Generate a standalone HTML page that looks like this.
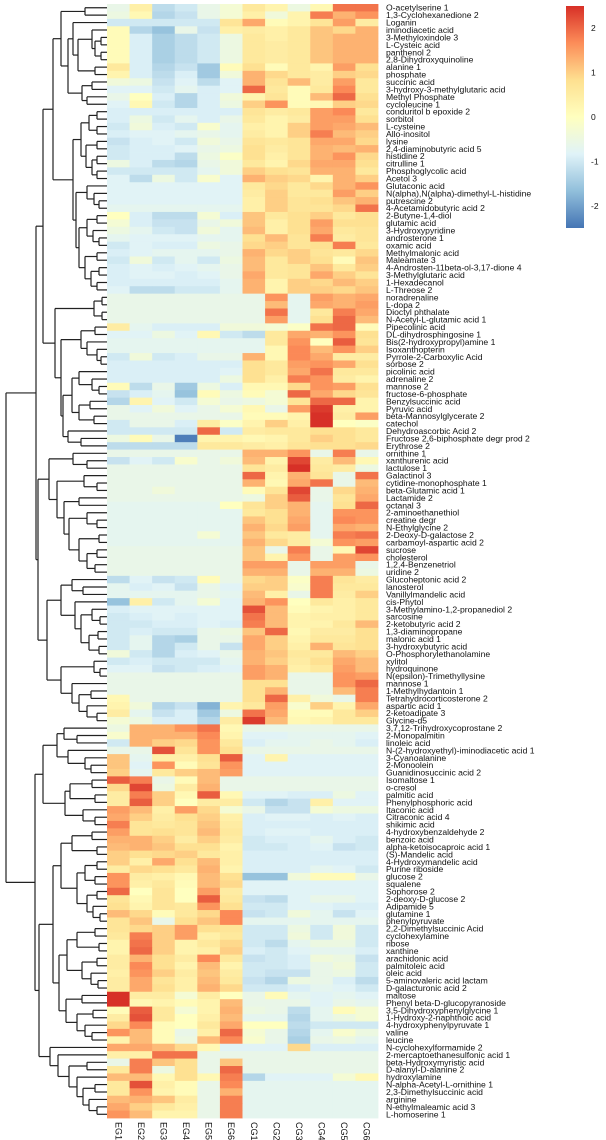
<!DOCTYPE html>
<html><head><meta charset="utf-8"><style>
html,body{margin:0;padding:0;background:#fff;}
svg{display:block;}
text{font-family:"Liberation Sans",sans-serif;}
</style></head><body>
<svg id="chart" width="606" height="1140" viewBox="0 0 606 1140" xmlns="http://www.w3.org/2000/svg">
<g id="dendro"></g>
<g id="cells"></g>
<g id="rowlabels"></g>
<g id="collabels"></g>
<g id="legend"></g>
</svg>
<script>
const columns = ["EG1","EG2","EG3","EG4","EG5","EG6","CG1","CG2","CG3","CG4","CG5","CG6"];
const rowNames = ["O-acetylserine 1","1,3-Cyclohexanedione 2","Loganin","iminodiacetic acid","3-Methyloxindole 3","L-Cysteic acid","panthenol 2","2,8-Dihydroxyquinoline","alanine 1","phosphate","succinic acid","3-hydroxy-3-methylglutaric acid","Methyl Phosphate","cycloleucine 1","conduritol b epoxide 2","sorbitol","L-cysteine","Allo-inositol","lysine","2,4-diaminobutyric acid 5","histidine 2","citrulline 1","Phosphoglycolic acid","Acetol 3","Glutaconic acid","N(alpha),N(alpha)-dimethyl-L-histidine","putrescine 2","4-Acetamidobutyric acid 2","2-Butyne-1,4-diol","glutamic acid","3-Hydroxypyridine","androsterone 1","oxamic acid","Methylmalonic acid","Maleamate 3","4-Androsten-11beta-ol-3,17-dione 4","3-Methylglutaric acid","1-Hexadecanol","L-Threose 2","noradrenaline","L-dopa 2","Dioctyl phthalate","N-Acetyl-L-glutamic acid 1","Pipecolinic acid","DL-dihydrosphingosine 1","Bis(2-hydroxypropyl)amine 1","Isoxanthopterin","Pyrrole-2-Carboxylic Acid","sorbose 2","picolinic acid","adrenaline 2","mannose 2","fructose-6-phosphate","Benzylsuccinic acid","Pyruvic acid","beta-Mannosylglycerate 2","catechol","Dehydroascorbic Acid 2","Fructose 2,6-biphosphate degr prod 2","Erythrose 2","ornithine 1","xanthurenic acid","lactulose 1","Galactinol 3","cytidine-monophosphate 1","beta-Glutamic acid 1","Lactamide 2","octanal 3","2-aminoethanethiol","creatine degr","N-Ethylglycine 2","2-Deoxy-D-galactose 2","carbamoyl-aspartic acid 2","sucrose","cholesterol","1,2,4-Benzenetriol","uridine 2","Glucoheptonic acid 2","lanosterol","Vanillylmandelic acid","cis-Phytol","3-Methylamino-1,2-propanediol 2","sarcosine","2-ketobutyric acid 2","1,3-diaminopropane","malonic acid 1","3-hydroxybutyric acid","O-Phosphorylethanolamine","xylitol","hydroquinone","N(epsilon)-Trimethyllysine","mannose 1","1-Methylhydantoin 1","Tetrahydrocorticosterone 2","aspartic acid 1","2-ketoadipate 3","Glycine-d5","3,7,12-Trihydroxycoprostane 2","2-Monopalmitin","linoleic acid","N-(2-hydroxyethyl)-iminodiacetic acid 1","3-Cyanoalanine","2-Monoolein","Guanidinosuccinic acid 2","Isomaltose 1","o-cresol","palmitic acid","Phenylphosphoric acid","Itaconic acid","Citraconic acid 4","shikimic acid","4-hydroxybenzaldehyde 2","benzoic acid","alpha-ketoisocaproic acid 1","(S)-Mandelic acid","4-Hydroxymandelic acid","Purine riboside","glucose 2","squalene","Sophorose 2","2-deoxy-D-glucose 2","Adipamide 5","glutamine 1","phenylpyruvate","2,2-Dimethylsuccinic Acid","cyclohexylamine","ribose","xanthine","arachidonic acid","palmitoleic acid","oleic acid","5-aminovaleric acid lactam","D-galacturonic acid 2","maltose","Phenyl beta-D-glucopyranoside","3,5-Dihydroxyphenylglycine 1","1-Hydroxy-2-naphthoic acid","4-hydroxyphenylpyruvate 1","valine","leucine","N-cyclohexylformamide 2","2-mercaptoethanesulfonic acid 1","beta-Hydroxymyristic acid","D-alanyl-D-alanine 2","hydroxylamine","N-alpha-Acetyl-L-ornithine 1","2,3-Dimethylsuccinic acid","arginine","N-ethylmaleamic acid 3","L-homoserine 1"];
const egValues = [
[-0.6,0.4,-1.2,-1.0,-0.6,-0.3],[-0.5,0.2,-1.3,-1.1,-0.6,-0.3],[-1,-1,-1,-1,-1,0.7],[0.1,-1.3,-1.6,-0.6,-1.1,0.4],[0.1,-0.9,-1.4,-1.2,-1.0,-0.5],[0.1,-0.9,-1.4,-1.2,-1.0,-0.5],[0.1,-0.9,-1.4,-1.2,-1.0,-0.5],[0.1,-0.9,-1.4,-1.2,-1.0,-0.5],[0.6,-0.9,-1.3,-1.1,-1.5,0.1],[0.3,-0.9,-1.2,-0.9,-1.5,-0.4],
[-0.4,-0.5,-1.1,-0.8,-1.2,-0.8],[-0.8,-0.8,-1.0,-0.7,-0.9,-0.8],[-0.6,0.0,-0.9,-1.3,-0.9,-0.4],[-0.8,0.2,-1.0,-1.3,-0.9,-0.5],[-0.9,-0.9,-0.9,-0.9,-0.9,-0.9],[-0.9,-0.5,-1.0,-0.7,-0.9,-0.6],[-1.0,-0.4,-0.9,-1.0,-0.2,-0.7],[-0.9,-0.8,-0.8,-0.7,-0.6,-0.7],[-1.1,-0.9,-0.8,-1.0,-0.4,-0.6],[-1.0,-0.9,-0.9,-0.8,-0.6,-0.5],
[-1.0,-0.9,-0.9,-1.2,-0.5,-0.1],[-0.5,-0.9,-1.2,-1.3,-0.6,-0.4],[-1.0,-1.0,-1.0,-1.0,-0.7,-0.4],[-0.8,-1.2,-0.5,-1.0,-0.2,-0.8],[-0.8,-0.8,-0.8,-0.8,-0.8,-0.8],[-0.8,-0.8,-0.8,-0.8,-0.8,-0.8],[-0.8,-0.8,-0.8,-0.8,-0.8,-0.8],[-0.7,-0.7,-0.7,-0.7,-0.7,-0.7],[0.0,-0.9,-1.2,-1.2,-0.3,-0.9],[-0.3,-0.9,-1.1,-1.1,-0.6,-0.4],
[-0.5,-0.7,-1.0,-1.1,-0.4,-0.7],[-0.7,-0.8,-0.8,-0.8,-0.7,-0.7],[-1.0,-0.8,-0.9,-0.9,-0.5,-0.6],[-0.9,-0.8,-0.7,-0.7,-0.7,-0.6],[-1.0,-0.4,-1.0,-0.7,-1.0,-0.5],[-0.9,-0.8,-0.9,-0.8,-0.7,-0.6],[-0.9,-0.8,-0.8,-0.9,-0.8,-0.6],[-0.9,-0.9,-0.9,-0.9,-0.9,-0.7],[-0.8,-1.2,-1.2,-1.0,-1.0,-0.7],[-0.6,-0.6,-0.6,-0.6,-0.6,-0.6],
[-0.6,-0.6,-0.6,-0.6,-0.6,-0.6],[-0.6,-0.6,-0.6,-0.6,-0.6,-0.6],[-0.6,-0.6,-0.6,-0.6,-0.6,-0.6],[0.5,-0.7,-0.9,-0.9,-0.9,-0.4],[-0.8,-0.8,-0.5,-0.8,0.2,-1.0],[-0.7,-0.7,-0.7,-0.7,-0.7,-0.7],[-0.7,-0.7,-0.7,-0.7,-0.7,-0.7],[-1.0,-0.4,-1.0,-0.9,-0.6,-0.6],[-0.9,-0.9,-0.9,-0.9,-0.9,-0.9],[-0.9,-0.9,-0.9,-0.9,-0.9,-0.8],
[-0.9,-0.9,-0.9,-0.9,-0.9,-0.5],[0.1,-1.2,-0.6,-1.5,-0.5,-0.9],[-1.1,-0.9,-0.7,-1.6,0.1,-0.5],[-1.3,0.3,-0.8,-1.0,-0.3,-0.6],[-0.6,-0.8,-0.4,-0.8,-0.6,-0.3],[-0.6,-0.6,-0.6,-0.6,-0.6,-0.6],[-1.0,-0.6,-0.6,-0.9,0.5,-0.1],[-1.0,-1.0,-1.0,-1.0,2.0,-1.0],[-0.5,0.1,-0.6,-2.4,0.3,0.3],[-1.2,-1.2,-1.2,-1.2,0.6,0.6],
[-0.6,-0.6,-0.6,-0.6,-0.6,-0.6],[-1.1,-0.8,-1.0,-0.2,-0.6,-0.4],[-0.6,-0.6,-0.6,-0.6,-0.6,-0.6],[-0.6,-0.6,-0.6,-0.6,-0.6,-0.6],[-0.6,-0.6,-0.6,-0.6,-0.6,-0.6],[-0.6,-0.6,-0.4,-0.6,-0.6,-0.6],[-0.6,-0.6,-0.6,-0.6,-0.6,-0.6],[-0.7,-0.7,-0.7,-0.7,-0.7,0.0],[-0.7,-0.7,-0.7,-0.7,-0.7,-0.7],[-0.7,-0.7,-0.7,-0.7,-0.7,-0.7],
[-0.7,-0.7,-0.7,-0.7,-0.7,-0.7],[-0.7,-0.7,-0.7,-0.7,-0.3,-0.7],[-0.7,-0.7,-0.7,-0.7,-0.7,-0.7],[-0.6,-0.6,-0.6,-0.6,-0.6,-0.6],[-0.6,-0.6,-0.6,-0.6,-0.6,-0.6],[-0.6,-0.6,-0.6,-0.6,-0.6,-0.6],[-0.6,-0.6,-0.6,-0.6,-0.6,-0.6],[-1.2,-0.8,-1.1,-1.0,0.1,-0.6],[-0.7,-0.9,-0.8,-1.1,-0.6,-0.8],[-0.7,-0.7,-0.7,-0.7,-0.6,-0.7],
[-1.6,0.4,-1.0,-0.7,-0.3,-0.8],[-0.9,-0.8,-0.8,-0.8,-0.8,-0.8],[-1.0,-0.9,-0.8,-0.9,-0.8,-0.8],[-1.0,-1.0,-0.9,-0.9,-0.8,-0.9],[-1.0,-0.9,-1.0,-1.0,-0.6,-0.5],[-1.0,-0.7,-1.3,-1.4,-0.6,-0.6],[-1.0,-0.7,-1.3,-1.0,-0.6,-1.1],[-0.4,-1.0,-1.3,-0.9,-0.8,-0.6],[-1.0,-0.9,-1.0,-1.0,-1.0,-0.7],[-0.8,-0.8,-1.1,-1.0,-0.9,-0.8],
[-0.6,-0.6,-0.6,-0.6,-0.6,-0.6],[-0.6,-0.6,-0.6,-0.6,-0.6,-0.6],[-0.6,-0.6,-0.6,-0.6,-0.6,-0.6],[0.2,-0.6,-0.6,-0.6,-0.6,-0.6],[0.3,-0.4,-1.3,-1.1,-1.8,0.3],[0.5,-0.7,-1.1,-0.9,-1.5,-0.5],[-0.3,-0.5,-0.9,-0.9,-1.3,0.5],[-0.5,1.3,1.3,1.6,1.9,0.2],[-0.2,1.3,1.3,1.3,1.7,0.3],[-1.0,1.3,1.0,0.9,1.6,0.6],
[-0.6,-0.6,2.2,0.7,1.6,0.8],[1.1,-0.7,0.4,0.4,0.8,2.1],[1.1,-0.8,1.6,0.1,0.7,1.6],[1.0,-0.7,0.6,1.0,1.2,1.5],[2.1,1.8,-0.6,0.1,1.2,-0.6],[0.9,2.3,-0.5,0.5,1.3,-0.6],[0.5,1.8,1.0,0.2,2.1,0.2],[0.5,2.1,1.0,0.0,0.5,0.5],[1.5,1.2,0.4,1.5,0.9,-0.3],[1.4,1.0,0.5,0.8,1.0,0.4],
[1.8,0.7,0.6,0.7,1.1,0.5],[1.5,0.7,0.8,0.7,1.2,0.6],[1.3,1.3,1.0,0.5,1.0,0.5],[1.2,1.3,1.1,0.8,0.8,0.3],[1.0,0.8,0.9,1.0,0.6,0.4],[1.0,0.4,1.4,0.8,1.2,0.4],[0.5,0.9,0.8,0.6,1.3,0.3],[1.6,0.5,0.4,0.2,1.2,0.8],[1.6,0.4,0.6,0.1,1.2,0.9],[2.0,0.0,0.7,0.0,1.5,0.5],
[0.7,0.2,0.7,0.0,2.1,0.6],[0.8,0.3,0.7,0.6,1.6,0.8],[1.2,0.9,0.1,0.6,0.9,1.7],[0.7,1.1,-0.6,0.8,1.1,1.7],[0.7,0.9,1.0,1.5,0.8,0.7],[0.6,1.8,1.0,1.5,0.4,0.6],[0.3,1.9,1.0,0.3,0.6,0.9],[0.3,2.0,1.0,0.3,0.4,1.0],[0.5,1.3,0.8,0.5,1.7,0.6],[0.5,1.7,0.8,0.3,1.2,0.3],
[0.4,1.6,1.0,0.5,1.1,0.5],[0.5,1.4,0.7,0.4,1.2,0.6],[0.5,1.4,0.8,0.4,1.3,0.9],[2.6,0.5,0.5,-0.3,0.5,0.0],[2.6,0.2,0.3,0.1,0.3,1.2],[0.1,2.1,0.6,-0.3,0.3,1.3],[0.5,2.2,0.6,0.0,0.4,1.2],[0.9,1.7,0.1,0.0,0.6,1.4],[1.6,1.2,0.1,-0.6,0.4,2.0],[0.3,1.2,0.1,-0.5,1.2,1.7],
[1.4,1.4,1.2,0.9,0.2,-0.8],[0.4,0.4,1.9,1.9,-0.6,-0.6],[-0.6,1.8,1.1,0.8,-0.6,1.1],[0.6,1.8,-0.5,0.8,-0.6,2.0],[1.2,1.2,0.2,0.8,0.2,1.8],[0.6,2.2,0.4,0.1,-0.6,1.7],[0.6,1.6,0.3,0.1,-0.6,1.3],[1.2,1.3,1.1,0.5,-0.6,1.8],[1.4,1.0,0.6,0.4,-0.6,1.8],[1.6,1.2,0.3,0.3,-0.6,1.8]];
const cgValues = [
[0.6,0.3,-0.5,0.2,1.9,1.9],[0.4,-0.4,0.3,1.8,1.3,1.6],[1.4,0.1,0.3,0.7,1.5,0.5],[0.5,0.4,0.6,1.1,0.9,1.3],[0.6,0.4,0.6,1.1,1.3,1.3],[0.6,0.5,0.6,1.1,1.3,1.3],[0.6,0.5,0.6,1.1,1.3,1.3],[0.6,0.5,0.6,1.1,1.3,1.3],[0.8,0.1,0.6,0.3,1.5,0.8],[1.3,0.9,0.6,0.5,1.0,0.9],
[1.3,0.7,1.2,0.5,1.5,0.6],[2.0,0.6,0.1,0.6,1.7,0.6],[0.3,0.7,0.1,1.2,2.0,0.8],[1.0,1.6,0.1,0.2,1.0,0.9],[0.7,0.5,0.6,1.5,1.7,0.6],[0.6,0.3,0.5,1.5,1.5,0.8],[0.4,0.3,1.0,1.5,1.4,1.2],[0.5,0.3,1.0,1.8,1.2,1.0],[0.7,0.6,0.7,1.4,1.4,0.9],[0.8,0.5,0.7,1.3,1.2,1.3],
[0.8,0.4,0.7,1.3,1.6,0.9],[0.6,0.3,0.9,1.4,1.4,0.8],[1.0,0.8,0.7,1.3,1.3,0.6],[1.3,1.0,0.9,0.3,1.3,1.0],[0.6,0.9,0.6,0.9,1.3,1.6],[0.5,1.0,0.6,0.6,1.5,1.0],[0.4,1.0,0.7,0.8,1.1,1.3],[0.4,1.0,0.7,0.7,0.9,1.9],[1.1,0.6,0.8,1.0,0.6,0.8],[1.1,0.4,0.8,1.5,0.8,0.8],
[1.2,0.4,0.8,1.4,0.6,0.7],[0.8,1.2,0.7,1.8,0.5,0.7],[0.9,1.0,0.7,0.8,1.8,0.6],[1.3,0.9,1.0,0.7,0.6,0.9],[1.2,0.6,1.0,0.8,0.1,1.1],[1.2,0.6,0.7,1.1,0.6,1.0],[1.4,0.6,0.7,1.4,1.0,0.7],[1.3,0.3,1.0,0.9,1.2,1.0],[1.3,0.3,1.0,1.0,0.9,1.1],[-0.6,1.6,-0.7,1.5,1.3,1.4],
[-0.6,1.2,-0.7,1.4,1.3,1.5],[-0.6,1.9,-0.7,0.6,1.8,1.4],[-0.6,1.5,-0.7,0.8,2.0,1.2],[-0.4,-0.3,-0.1,1.9,2.0,0.1],[-1.2,0.6,1.4,1.3,1.6,0.8],[-0.7,0.6,1.6,0.0,2.1,0.7],[-0.7,0.2,1.7,1.2,1.6,1.0],[1.3,0.2,1.7,1.4,0.5,0.5],[0.8,0.6,1.5,1.6,1.4,0.8],[0.8,0.6,1.4,1.9,0.6,0.6],
[0.8,0.4,1.8,1.6,0.5,0.3],[0.2,0.2,0.9,1.6,1.5,0.8],[0.1,-0.3,2.0,1.4,0.9,0.7],[-0.5,-0.3,0.7,2.0,2.0,0.3],[0.2,-0.6,1.5,2.4,0.4,0.3],[0.1,0.1,0.3,2.6,0.5,1.5],[0.3,1.0,0.4,2.8,0.0,-0.1],[0.5,0.6,0.6,0.8,0.8,0.6],[0.2,0.3,0.6,1.0,0.8,0.6],[0.5,0.4,0.7,0.8,0.8,0.9],
[1.3,1.3,1.6,-0.6,1.8,-0.6],[1.2,0.3,2.3,0.5,1.2,0.2],[0.7,0.5,2.6,0.6,0.5,-0.5],[2.0,0.3,1.3,0.7,-0.6,1.9],[1.3,0.2,1.4,1.9,-0.6,1.2],[0.1,0.7,2.3,-0.6,0.9,1.3],[-0.5,1.0,2.1,-0.6,0.7,1.4],[0.7,1.0,1.3,-0.7,0.8,2.0],[0.6,0.8,1.3,-0.7,1.6,1.6],[1.1,0.8,1.4,-0.7,1.7,1.6],
[1.3,0.9,1.5,-0.7,1.4,1.3],[1.1,0.6,0.5,-0.7,1.8,1.9],[1.3,0.9,0.5,-0.3,1.6,1.5],[1.1,-0.6,1.8,-0.6,0.2,2.3],[1.1,0.3,1.6,-0.6,1.5,1.6],[1.5,1.5,-0.6,1.5,1.5,-0.6],[1.3,1.3,-0.6,1.3,1.3,-0.5],[0.9,1.0,-0.1,1.8,0.7,0.5],[1.0,1.0,-0.2,1.8,0.6,0.6],[1.2,0.4,-0.6,1.8,0.5,1.0],
[1.3,1.6,0.0,0.6,0.4,0.6],[2.2,1.2,0.1,0.3,0.4,0.6],[1.9,1.2,0.3,0.4,0.4,0.6],[1.8,1.2,0.3,0.3,0.6,1.2],[1.1,2.0,0.2,0.5,0.5,0.8],[1.4,1.0,0.3,0.6,0.6,0.8],[1.4,1.0,0.4,1.3,0.7,0.8],[1.3,1.1,0.6,0.6,1.2,1.0],[1.3,1.0,0.5,0.8,1.4,1.2],[1.5,1.3,0.4,0.6,1.5,1.2],
[1.5,1.3,-0.6,-0.6,1.6,1.5],[0.8,0.8,-0.6,-0.6,1.6,2.0],[0.8,1.3,-0.6,-0.6,1.2,1.8],[0.8,2.0,0.4,-0.4,-0.6,1.8],[0.6,1.5,-0.2,1.0,0.3,1.4],[1.9,1.4,0.1,0.1,0.6,1.0],[2.4,1.2,0.2,0.3,0.6,0.6],[-0.6,-0.6,-0.6,-0.6,-0.6,-0.6],[-0.8,-0.8,-0.7,-0.7,-0.7,-0.8],[-0.9,-0.7,-0.7,-0.6,-0.7,-0.9],
[-0.6,-0.6,-0.6,-0.6,-0.6,-0.6],[-0.8,0.3,-0.8,-0.8,-0.8,-0.8],[-0.8,-0.8,-0.8,-0.8,-0.8,-0.8],[-0.8,-0.8,-0.8,-0.8,-0.8,-0.8],[-0.6,-0.6,-0.6,-0.6,-0.6,-0.6],[-0.6,-0.6,-0.6,-0.6,-0.6,-0.6],[-0.8,-0.8,-0.9,-0.9,-0.5,-0.8],[-1.0,-1.3,-1.1,0.4,-0.8,-0.8],[-0.6,-1.1,-1.1,-0.3,-0.5,-0.5],[-0.9,-0.8,-0.8,-0.9,-0.8,-0.9],
[-0.9,-0.9,-0.9,-0.9,-0.9,-0.9],[-0.9,-0.8,-0.8,-0.9,-0.9,-0.9],[-1.0,-0.9,-0.9,-0.7,-0.9,-1.0],[-1.0,-1.0,-0.9,-0.8,-1.1,-1.0],[-0.9,-0.9,-0.9,-0.9,-0.9,-0.9],[-0.9,-0.9,-0.9,-0.9,-0.9,-0.9],[-0.9,-0.9,-0.9,-0.7,-0.8,-1.0],[-1.6,-1.6,-0.4,0.1,0.1,-0.6],[-0.8,-0.8,-0.8,-0.8,-0.8,-0.8],[-0.8,-0.8,-0.8,-0.8,-0.8,-0.8],
[-1.1,-1.2,-0.8,-0.6,-0.6,-0.8],[-1.0,-1.0,-0.8,-0.8,-0.9,-0.9],[-1.1,-1.0,-0.4,-0.7,-1.1,-0.8],[-0.7,-0.7,-0.7,-0.7,-0.7,-0.7],[-1.0,-1.0,-0.5,-1.0,-0.4,-1.0],[-1.0,-1.0,-0.4,-1.0,-0.4,-1.0],[-1.0,-1.2,-0.7,-0.5,-0.5,-1.0],[-0.9,-1.0,-0.8,-0.7,-0.7,-0.9],[-1.1,-1.0,-0.9,-0.4,-0.5,-1.1],[-1.0,-1.0,-0.9,-0.6,-0.4,-1.0],
[-1.0,-1.1,-1.1,-0.6,-0.5,-1.0],[-1.1,-1.3,-0.5,-0.6,-0.9,-1.2],[-1.0,-1.0,-0.9,-0.7,-0.8,-1.0],[-0.6,0.1,-0.7,-0.8,-0.7,-0.8],[-0.6,-0.6,-0.6,-0.8,-0.6,-0.7],[-0.5,-0.6,-1.2,-0.7,0.1,-0.3],[-0.7,-0.7,-1.3,-0.7,-0.5,-0.3],[0.0,0.0,-1.2,-1.0,-1.0,-1.0],[-0.3,-0.6,-1.3,-0.7,-0.2,-0.5],[-0.2,-0.6,-1.4,-0.6,-0.5,-0.7],
[-0.8,-0.8,0.9,-0.9,-0.9,-0.9],[-0.6,-0.6,-0.6,-0.6,-0.6,-0.6],[-0.6,-0.6,-0.6,-0.6,-0.6,-0.6],[-0.6,-0.6,-0.6,-0.6,-0.6,-0.6],[-1.3,-0.8,-0.8,-0.8,-0.3,0.2],[-0.7,-0.7,-0.7,-0.7,-0.7,-0.7],[-0.7,-0.7,-0.7,-0.7,-0.7,-0.7],[-0.7,-0.7,-0.7,-0.7,-0.7,-0.7],[-0.7,-0.7,-0.7,-0.7,-0.7,-0.7],[-0.7,-0.7,-0.7,-0.7,-0.7,-0.7]];
// dendrogram merges: [firstRow, lastRow, splitRow, height]
const merges = [
[0,149,97,10.1],[0,96,60,7.1],[0,59,39,6.4],[0,38,14,5.4],[0,13,2,4.6],[0,1,1,2.2],[2,13,10,3.9],[2,9,3,3.4],[3,9,8,2.9],[3,7,4,1.5],[4,7,6,1.2],[4,5,5,0.6],[6,7,7,0.6],[8,9,9,1.2],[10,13,12,2.5],[10,11,11,1.5],[12,13,13,2.0],
[14,38,24,3.4],[14,23,18,2.6],[14,17,16,1.8],[14,15,15,1.0],[16,17,17,1.0],[18,23,20,2.1],[18,19,19,1.0],[20,23,22,1.5],[20,21,21,1.0],[22,23,23,1.0],[24,38,28,3.1],[24,27,25,2.0],[25,27,26,1.3],[26,27,27,0.8],[28,38,33,2.8],[28,32,30,2.0],[28,29,29,1.0],[30,32,31,1.4],[31,32,32,0.8],[33,38,35,2.2],[33,34,34,1.0],[35,38,37,1.6],[35,36,36,0.8],[37,38,38,1.0],
[39,59,43,5.2],[39,42,41,1.3],[39,40,40,0.5],[41,42,42,0.5],[43,59,49,4.6],[43,48,45,2.6],[43,44,44,1.2],[45,48,46,2.0],[46,48,47,1.0],[47,48,48,0.6],[49,59,57,4.4],[49,56,53,3.5],[49,52,50,2.8],[50,52,51,1.5],[51,52,52,0.8],[53,56,55,2.8],[53,54,54,1.7],[55,56,56,1.3],[57,59,58,3.9],[58,59,59,2.6],
[60,96,77,6.9],[60,76,63,5.8],[60,62,61,3.4],[61,62,62,2.0],[63,76,66,5.0],[63,65,64,2.3],[64,65,65,1.0],[66,76,68,4.3],[66,67,67,2.8],[68,76,71,3.8],[68,70,69,2.0],[69,70,70,1.0],[71,76,73,2.8],[71,72,72,0.8],[73,76,75,2.0],[73,74,74,1.0],[75,76,76,1.2],
[77,96,88,6.0],[77,87,80,4.6],[77,79,78,3.5],[78,79,79,2.4],[80,87,81,3.2],[81,87,84,2.6],[81,83,82,1.5],[82,83,83,0.7],[84,87,86,1.8],[84,85,85,0.9],[86,87,87,0.8],[88,96,91,4.6],[88,90,89,1.3],[89,90,90,0.7],[91,96,92,3.5],[92,96,94,2.8],[92,93,93,1.6],[94,96,95,2.0],[95,96,96,1.0],
[97,149,111,7.2],[97,110,104,6.4],[97,103,100,5.0],[97,99,98,4.3],[98,99,99,3.0],[100,103,101,3.9],[101,103,102,2.2],[102,103,103,1.6],[104,110,108,4.2],[104,107,106,3.7],[104,105,105,1.5],[106,107,107,1.2],[108,110,109,2.4],[109,110,110,1.2],
[111,149,140,6.8],[111,139,124,5.4],[111,123,115,4.6],[111,114,113,3.5],[111,112,112,1.5],[113,114,114,1.0],[115,123,119,3.0],[115,118,117,2.2],[115,116,116,1.0],[117,118,118,1.2],[119,123,121,2.0],[119,120,120,1.0],[121,123,122,1.4],[122,123,123,0.7],
[124,139,133,4.8],[124,132,128,4.0],[124,127,126,3.0],[124,125,125,1.2],[126,127,127,0.8],[128,132,130,2.5],[128,129,129,1.0],[130,132,131,1.6],[131,132,132,0.9],[133,139,135,4.1],[133,134,134,2.5],[135,139,137,3.0],[135,136,136,1.4],[137,139,138,2.2],[138,139,139,1.5],
[140,149,141,5.7],[141,149,142,4.9],[142,149,144,3.8],[142,143,143,2.0],[144,149,145,3.0],[145,149,147,2.4],[145,146,146,1.2],[147,149,148,1.8],[148,149,149,1.0]];
const legendTicks = [2,1,0,-1,-2];

const NS = "http://www.w3.org/2000/svg";
const X0 = 107, X1 = 378, Y0 = 4, Y1 = 1118;
const nR = rowNames.length, nC = columns.length;
const cw = (X1 - X0) / nC, rh = (Y1 - Y0) / nR;
const palette = ["#4575B4","#91BFDB","#E0F3F8","#FFFFBF","#FEE090","#FC8D59","#D73027"];
const VMIN = -2.5, VMAX = 2.5;
function hex(c){return [1,3,5].map(i=>parseInt(c.substr(i,2),16));}
function colorOf(v){
  let t = (v - VMIN) / (VMAX - VMIN); t = Math.max(0, Math.min(1, t));
  const p = t * (palette.length - 1); const i = Math.min(palette.length - 2, Math.floor(p)); const f = p - i;
  const a = hex(palette[i]), b = hex(palette[i+1]);
  return "rgb(" + a.map((x,k)=>Math.round(x + (b[k]-x)*f)).join(",") + ")";
}
const xCol = c => X0 + c * cw;
const yRow = r => Y0 + r * rh;
function mk(tag, attrs, parent){const e=document.createElementNS(NS,tag);for(const k in attrs)e.setAttribute(k,attrs[k]);parent.appendChild(e);return e;}

const cells = document.getElementById("cells");
for (let r = 0; r < nR; r++) {
  const vals = egValues[r].concat(cgValues[r]);
  for (let c = 0; c < nC; c++) {
    const rect = mk("rect", {x: xCol(c), y: yRow(r), width: cw + 0.4, height: rh + 0.4, fill: colorOf(vals[c])}, cells);
    
    
  }
}
const rl = document.getElementById("rowlabels");
rowNames.forEach((n, r) => {
  const t = mk("text", {x: 386, y: yRow(r) + rh / 2 + 3, "font-size": 8.6, fill: "#111"}, rl);
  t.textContent = n;
  
  
});
const cl = document.getElementById("collabels");
columns.forEach((n, c) => {
  const cx = xCol(c) + cw / 2 - 3;
  const t = mk("text", {x: cx, y: 1122, "font-size": 9, fill: "#111", "font-family": "Liberation Serif, serif", transform: "rotate(90 " + cx + " 1122)"}, cl);
  t.textContent = n;
  
  
});
// dendrogram
const mmap = {}; merges.forEach(m => mmap[m[0] + "-" + m[1]] = m);
const dg = document.getElementById("dendro");
const hx = h => X0 - h * 10;
function line(x1,y1,x2,y2){const l=mk("line",{x1,y1,x2,y2,stroke:"#222","stroke-width":1.2},dg);}
function build(a, b) {
  if (a === b) return {x: X0, y: yRow(a) + rh / 2};
  let m = mmap[a + "-" + b];
  if (!m) { const s = Math.floor((a + b + 1) / 2); m = [a, b, s, 0.3 * (b - a)]; }
  const L = build(a, m[2] - 1), R = build(m[2], b);
  const x = hx(m[3]);
  line(L.x, L.y, x, L.y); line(R.x, R.y, x, R.y); line(x, L.y, x, R.y);
  return {x, y: (L.y + R.y) / 2};
}
build(0, nR - 1);
// legend
const lg = document.getElementById("legend");
const defs = mk("defs", {}, lg);
const grad = mk("linearGradient", {id: "lgrad", x1: 0, y1: 1, x2: 0, y2: 0}, defs);
palette.forEach((p, i) => mk("stop", {offset: (i / (palette.length - 1)), "stop-color": p}, grad));
const LY0 = 6, LY1 = 228;
const bar = mk("rect", {x: 566, y: LY0, width: 18, height: LY1 - LY0, fill: "url(#lgrad)"}, lg);


const ly = v => LY1 - (v - VMIN) / (VMAX - VMIN) * (LY1 - LY0);
legendTicks.forEach(v => {
  const t = mk("text", {x: 591, y: ly(v) + 3, "font-size": 8.5, fill: "#111"}, lg);
  t.textContent = String(v);
  
  
});
</script>
</body></html>
